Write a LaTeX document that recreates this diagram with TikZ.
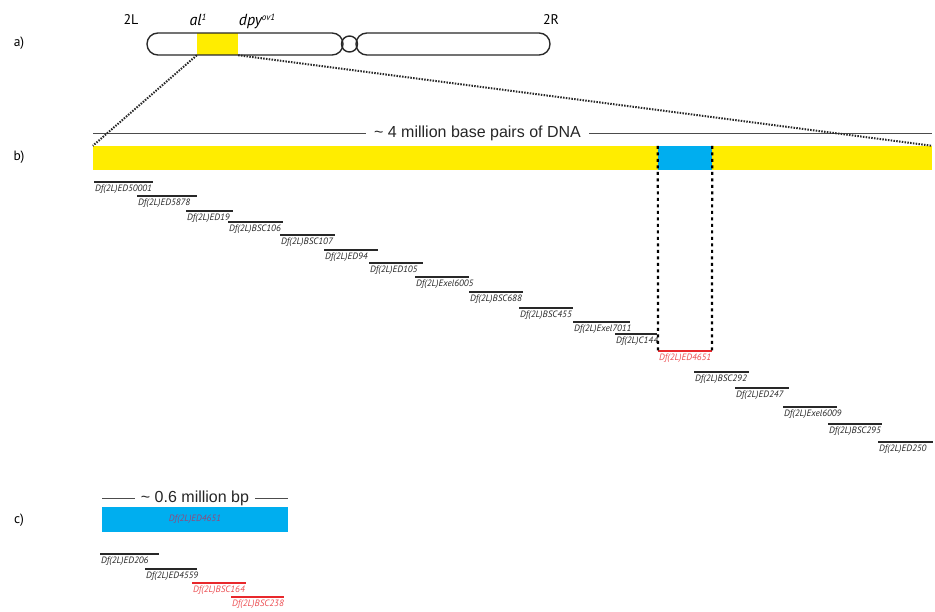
\documentclass[tikz,border=0pt]{standalone}
\usepackage{fontspec}
\setmainfont{Liberation Sans}
\newfontfamily\myriad{PT Sans}
\usetikzlibrary{positioning}
\definecolor{dfyellow}{RGB}{255,237,0}
\definecolor{dfblue}{RGB}{0,174,239}
\definecolor{dfred}{RGB}{232,40,44}
\definecolor{dfpink}{RGB}{236,80,84}
\definecolor{dfgrey}{RGB}{40,40,40}
\tikzset{
  dfmap/.style={x=1pt, y=-1pt},
  chrom/.style={draw=dfgrey, line width=1.4pt, rounded corners=10.9pt},
  zoomline/.style={dfgrey, line width=2pt, dash pattern=on 1.5pt off 1.3pt},
  cutline/.style={black, line width=2.2pt, dash pattern=on 3pt off 3.5pt},
  scaleline/.style={black!70, line width=1.1pt},
  scaletext/.style={font={\fontsize{16}{18}\selectfont}, text=black!85, inner xsep=8pt, inner ysep=0pt},
  panel/.style={font={\myriad\fontsize{13.5}{15}\selectfont}},
  armname/.style={font={\myriad\fontsize{14}{16}\selectfont}},
  genename/.style={anchor=base, font={\myriad\itshape\fontsize{16}{18}\selectfont}},
  dfline/.style={line width=2.4pt},
  dflabel/.style={anchor=north west, inner sep=0pt,
    font={\myriad\itshape\fontsize{9.2}{10}\selectfont}}
}
% one deficiency: [colour]{start}{end}{height}{name}
\newcommand{\dfbar}[5][dfgrey]{%
  \draw[dfline,#1] (#2,#4) -- (#3,#4);
  \node[dflabel,text=#1] (#5) at (#2+1,#4+2.5) {Df(2L)#5};
}
\newcommand{\dfredbar}[4]{%
  \draw[dfline,dfred] (#1,#3) -- (#2,#3);
  \node[dflabel,text=dfpink] (#4) at (#1+1,#3+2.5) {Df(2L)#4};
}
\newcommand{\smallsup}[1]{\raisebox{5pt}{\fontsize{9}{9}\selectfont #1}}

\begin{document}
\begin{tikzpicture}[dfmap]
\useasboundingbox (0,0) rectangle (935,611);

% a) chromosome 2
\node[panel] (pa) at (19,43) {a)};
\node[fill=dfyellow, inner sep=0, minimum width=41pt, minimum height=22pt] (alregion) at (217.5,44) {};
\draw[chrom] (147,33) rectangle (343,55);
\draw[chrom] (356,33) rectangle (550,55);
\draw[dfgrey, line width=1.4pt] (349.5,44) circle (8pt);
\node[armname] (arm2L) at (131,20) {2L};
\node[armname] (arm2R) at (551,20) {2R};
\node[genename] (al) at (198,25) {al\smallsup{1}};
\node[genename] (dpy) at (257,25) {dpy\smallsup{ov1}};

% b) the 4 Mb region
\node[panel] (pb) at (19,157) {b)};
\coordinate (scaleL) at (93,133.5);
\coordinate (scaleR) at (932,133.5);
\node[scaletext] (scale) at (477.5,133.5) {\textasciitilde{} 4 million base pairs of DNA};
\draw[scaleline] (scaleL) -- (scale) -- (scaleR);
\node[fill=dfyellow, inner sep=0, minimum width=839pt, minimum height=24pt] (dnabar) at (512.5,158) {};
\node[fill=dfblue, inner sep=0, minimum width=54pt, minimum height=24pt] (cutbox) at (685,158) {};
\draw[zoomline] (alregion.south west) -- (dnabar.north west);
\draw[zoomline] (alregion.south east) -- (dnabar.north east);

\dfbar{94}{153}{182}{ED50001}
\dfbar{137}{197}{196}{ED5878}
\dfbar{186}{233}{211}{ED19}
\dfbar{228}{283}{222}{BSC106}
\dfbar{280}{335}{235}{BSC107}
\dfbar{324}{378}{250}{ED94}
\dfbar{369}{423}{263}{ED105}
\dfbar{415}{469}{277}{Exel6005}
\dfbar{469}{523}{292}{BSC688}
\dfbar{519}{573}{308}{BSC455}
\dfbar{573}{630}{322}{Exel7011}
\dfbar{615}{657}{334}{C144}
\dfredbar{658}{712}{351}{ED4651}
\dfbar{694}{749}{372}{BSC292}
\dfbar{735}{789}{388}{ED247}
\dfbar{783}{837}{407}{Exel6009}
\dfbar{828}{882}{424}{BSC295}
\dfbar{878}{933}{442}{ED250}

\coordinate (cutL) at (658,351);
\coordinate (cutR) at (712,351);
\draw[cutline] (cutbox.north west) -- (cutL);
\draw[cutline] (cutbox.north east) -- (cutR);

% c) the 0.6 Mb region
\node[panel] (pc) at (19,520) {c)};
\coordinate (zoomL) at (102,498.5);
\coordinate (zoomR) at (288,498.5);
\node[scaletext, inner xsep=6pt] (zoomscale) at (195,498.5) {\textasciitilde{} 0.6 million bp};
\draw[scaleline] (zoomL) -- (zoomscale) -- (zoomR);
\node[fill=dfblue, inner sep=0, minimum width=186pt, minimum height=25pt,
  font={\myriad\itshape\fontsize{9.2}{10}\selectfont}, text={rgb,255:red,150;green,70;blue,120}] (zoombox) at (195,519.5) {Df(2L)ED4651};

\dfbar{100}{159}{554}{ED206}
\dfbar{145}{197}{569}{ED4559}
\dfredbar{192}{246}{583}{BSC164}
\dfredbar{231}{284}{597}{BSC238}
\end{tikzpicture}
\end{document}
